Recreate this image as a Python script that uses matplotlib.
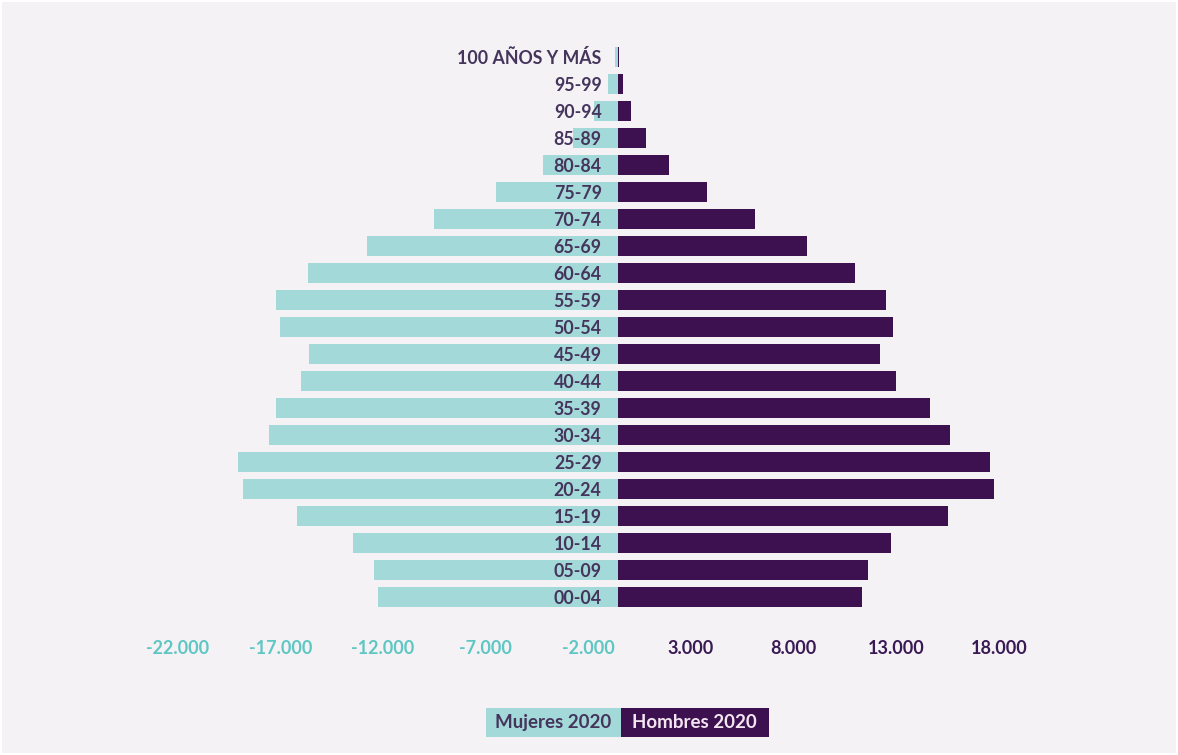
import matplotlib
matplotlib.use("Agg")
import matplotlib.pyplot as plt
import matplotlib.transforms as mtransforms
from matplotlib.patches import Rectangle

# ---- data (bottom-up order) ----
categories = ["00-04", "05-09", "10-14", "15-19", "20-24", "25-29", "30-34",
              "35-39", "40-44", "45-49", "50-54", "55-59", "60-64", "65-69",
              "70-74", "75-79", "80-84", "85-89", "90-94", "95-99",
              "100 AÑOS Y MÁS"]
mujeres = [11705, 11885, 12908, 15650, 18295, 18539, 17000, 16688, 15441,
           15051, 16493, 16688, 15129, 12255, 8962, 5957, 3653, 2192, 1184,
           487, 150]
hombres = [11885, 12177, 13298, 16045, 18300, 18105, 16171, 15183, 13541,
           12747, 13395, 13054, 11544, 9191, 6673, 4335, 2484, 1335, 604,
           214, 20]
tick_values = [-22000, -17000, -12000, -7000, -2000, 3000, 8000, 13000, 18000]
tick_labels = ["-22.000", "-17.000", "-12.000", "-7.000", "-2.000",
               "3.000", "8.000", "13.000", "18.000"]
legend_labels = ["Mujeres 2020", "Hombres 2020"]

TEAL = "#a3d9d8"
PURPLE = "#3d1150"
BG = "#f4f2f5"
TEAL_TXT = "#5ec6c3"
PURP_TXT = "#3a1a55"
LABEL_TXT = "#45345c"

plt.rcParams['font.family'] = ['Lato', 'DejaVu Sans']

W, H = 1178, 755
fig = plt.figure(figsize=(W / 100, H / 100), dpi=100, facecolor="white")
fig.patches.append(Rectangle((2 / W, 2 / H), 1 - 4 / W, 1 - 4 / H,
                             transform=fig.transFigure, facecolor=BG,
                             edgecolor="none", zorder=-10))

ax_l, ax_r = 130, 1050
ax_t, ax_b = 43.2, 610.7
ax = fig.add_axes([ax_l / W, 1 - ax_b / H, (ax_r - ax_l) / W, (ax_b - ax_t) / H])
ax.set_facecolor("none")

zero_px = 618.3
ppu = 0.02053
ax.set_xlim((ax_l - zero_px) / ppu, (ax_r - zero_px) / ppu)
ax.set_ylim(-0.5, len(categories) - 0.5)

y = list(range(len(categories)))
ax.barh(y, [-m for m in mujeres], height=0.74, color=TEAL, zorder=1)
ax.barh(y, hombres, height=0.74, color=PURPLE, zorder=1)

for s in ax.spines.values():
    s.set_visible(False)

# category labels at center
ax.spines['left'].set_position(('data', 0))
ax.set_yticks(y)
ax.set_yticklabels(categories, fontsize=12.8, fontweight='bold', color=LABEL_TXT)
ax.tick_params(axis='y', length=0, pad=12)

# x ticks
ax.set_xticks(tick_values)
ax.set_xticklabels(tick_labels, fontsize=13, fontweight='bold')
ax.tick_params(axis='x', length=0, pad=21)
off = mtransforms.ScaledTranslation(11 / 100, 0, fig.dpi_scale_trans)
for v, lab in zip(tick_values, ax.get_xticklabels()):
    lab.set_color(TEAL_TXT if v < 0 else PURP_TXT)
    lab.set_transform(lab.get_transform() + off)

# legend boxes
lx0, lxm, lx1 = 486, 620.7, 769
ly0, ly1 = 708.3, 736.7
fig.patches.append(Rectangle((lx0 / W, 1 - ly1 / H), (lxm - lx0) / W, (ly1 - ly0) / H,
                             transform=fig.transFigure, facecolor=TEAL, edgecolor="none"))
fig.patches.append(Rectangle((lxm / W, 1 - ly1 / H), (lx1 - lxm) / W, (ly1 - ly0) / H,
                             transform=fig.transFigure, facecolor=PURPLE, edgecolor="none"))
ymid = 1 - (ly0 + ly1) / 2 / H
fig.text((lx0 + lxm) / 2 / W, ymid, legend_labels[0], ha='center', va='center',
         fontsize=13.5, fontweight='bold', color=LABEL_TXT)
fig.text((lxm + lx1) / 2 / W, ymid, legend_labels[1], ha='center', va='center',
         fontsize=13.5, fontweight='bold', color="#f3e6f0")

fig.savefig("out.png", dpi=100, facecolor=fig.get_facecolor())
